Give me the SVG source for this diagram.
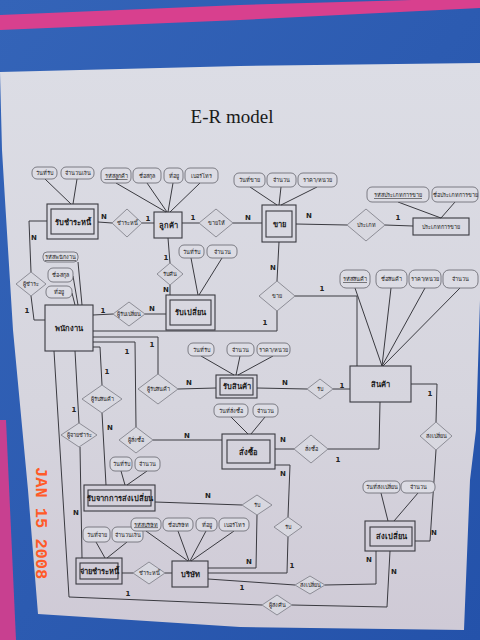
<svg xmlns="http://www.w3.org/2000/svg" width="480" height="640" viewBox="0 0 480 640">
<defs>
<linearGradient id="paper" x1="0" y1="0" x2="0" y2="1">
<stop offset="0" stop-color="#dcdde5"/>
<stop offset="0.6" stop-color="#d6d5de"/>
<stop offset="1" stop-color="#cfcad6"/>
</linearGradient>
<linearGradient id="blue" x1="0" y1="0" x2="1" y2="1">
<stop offset="0" stop-color="#3464b8"/>
<stop offset="1" stop-color="#2452aa"/>
</linearGradient>
<style>
.ln{fill:none;stroke:#3a3a40;stroke-width:1}
.ent{fill:none;stroke:#3a3a40;stroke-width:1.1}
.att{fill:#dcdce4;stroke:#707078;stroke-width:0.9}
.rel{fill:#d8d8e0;stroke:#85858d;stroke-width:0.9}
.t{font-family:"DejaVu Sans","Noto Sans",sans-serif;font-size:5.5px;fill:#222;text-anchor:middle}
.te{font-family:"DejaVu Sans","Noto Sans",sans-serif;font-size:7.5px;font-weight:bold;fill:#1a1a1a;text-anchor:middle}
.c{font-family:"DejaVu Sans",sans-serif;font-size:7px;font-weight:bold;fill:#222;text-anchor:middle}
.u{text-decoration:underline}
</style>
</defs>
<g id="photo">
<rect x="0" y="0" width="480" height="640" fill="url(#blue)"/>
<polygon points="0,15 240,5 480,-2 480,8 240,20 0,30" fill="#d8408e"/>
<polygon points="0,420 6,420 16,640 0,640" fill="#c84090"/>
<polygon points="0,72 240,66 480,63 480,300 476,430 470,480 464,630 240,627 38,614 28,490 13,330 5,200 2,150" fill="url(#paper)"/>
<text x="232" y="123" font-family="Liberation Serif,serif" font-size="19" fill="#1a1a1a" text-anchor="middle">E-R model</text>
<text transform="translate(36,467) rotate(90)" font-family="Liberation Mono,monospace" font-size="17" font-weight="bold" fill="#ff5a28">JAN 15 2008</text>
</g>
<g id="connectors">
<path class="ln" d="M45,179L71,204M77,179L73,204"/>
<path class="ln" d="M116,183L166,212M147,183L167,212M173,183L168,212M200,183L170,212"/>
<path class="ln" d="M250,187L277,205M281,187L279,205M317,187L281,205"/>
<path class="ln" d="M398,202L441,218M455,202L441,218"/>
<path class="ln" d="M191,258L198,295M222,258L199,295"/>
<path class="ln" d="M78,262L82,305M73,276L78,305M72,293L75,305"/>
<path class="ln" d="M201,356L234,375M240,356L236,375M273,356L238,375"/>
<path class="ln" d="M355,288L382,366M391,288L382,366M425,288L382,366M460,288L383,366"/>
<path class="ln" d="M231,417L248,434M265,417L251,434"/>
<path class="ln" d="M121,471L125,485M147,471L127,485"/>
<path class="ln" d="M96,542L105,558M127,542L107,558"/>
<path class="ln" d="M146,531L188,561M178,531L189,561M206,531L190,561M234,531L191,561"/>
<path class="ln" d="M381,493L388,521M418,493L394,521"/>
<path class="ln" d="M98,222L112,223M142,223L154,223M182,223L199,223M233,223L262,223M296,224L347,225M385,225L413,226"/>
<path class="ln" d="M168,238L170,263M170,285L170,295"/>
<path class="ln" d="M47,221L29,221L31,272M31,296L34,320L45,320"/>
<path class="ln" d="M93,315L113,314M145,314L166,314"/>
<path class="ln" d="M279,242L277,281M277,311L277,331L93,331M295,296L357,296L357,366"/>
<path class="ln" d="M93,337L158,337L158,374M93,342L135,342L136,427M93,347L100,347L102,385"/>
<path class="ln" d="M75,351L79,423M102,413L106,485M80,447L82,558"/>
<path class="ln" d="M178,389L216,388M257,388L307,389M333,389L350,389"/>
<path class="ln" d="M153,440L222,440M275,449L294,449M328,449L379,449L380,402"/>
<path class="ln" d="M411,384L437,384L436,422M436,450L430,541L415,541"/>
<path class="ln" d="M155,502L242,505M257,515L256,568L208,568M275,465L290,465L288,517M288,537L287,573L208,573"/>
<path class="ln" d="M208,579L295,585M325,585L376,584L376,551"/>
<path class="ln" d="M122,573L133,573M165,573L172,573"/>
<path class="ln" d="M54,351L69,597L262,605M292,605L387,607L390,551"/>
</g>
<g id="labels">
<text class="c" x="104" y="219">N</text><text class="c" x="148" y="221">1</text>
<text class="c" x="193" y="220">1</text><text class="c" x="248" y="220">N</text>
<text class="c" x="309" y="218">N</text><text class="c" x="398" y="220">1</text>
<text class="c" x="166" y="260">1</text><text class="c" x="166" y="292">N</text>
<text class="c" x="34" y="240">N</text><text class="c" x="27" y="313">1</text>
<text class="c" x="103" y="313">1</text><text class="c" x="152" y="311">N</text>
<text class="c" x="273" y="270">N</text><text class="c" x="265" y="325">1</text><text class="c" x="322" y="291">1</text>
<text class="c" x="152" y="347">1</text><text class="c" x="127" y="354">1</text><text class="c" x="107" y="374">1</text>
<text class="c" x="74" y="412">1</text><text class="c" x="110" y="430">N</text><text class="c" x="76" y="515">N</text>
<text class="c" x="189" y="385">N</text><text class="c" x="285" y="385">N</text><text class="c" x="342" y="388">1</text>
<text class="c" x="187" y="438">N</text><text class="c" x="283" y="442">N</text><text class="c" x="338" y="462">1</text>
<text class="c" x="430" y="396">1</text><text class="c" x="434" y="535">N</text>
<text class="c" x="208" y="498">N</text><text class="c" x="249" y="564">N</text>
<text class="c" x="283" y="476">N</text><text class="c" x="292" y="568">1</text>
<text class="c" x="242" y="590">1</text><text class="c" x="369" y="562">N</text>
<text class="c" x="128" y="596">1</text><text class="c" x="394" y="574">N</text>
</g>
<g id="e-rubchamra"><rect class="ent" x="47" y="204" width="51" height="35"/><rect class="ent" x="51" y="209" width="43" height="25"/><text class="te" x="72.5" y="225">รับชำระหนี้</text></g>
<g id="e-lukkha"><rect class="ent" x="154" y="212" width="28" height="26"/><text class="te" x="168" y="228">ลูกค้า</text></g>
<g id="e-khai"><rect class="ent" x="262" y="205" width="34" height="37"/><rect class="ent" x="266" y="211" width="26" height="26"/><text class="te" x="279" y="227">ขาย</text></g>
<g id="e-prapheet"><rect class="ent" x="413" y="218" width="56" height="17"/><text class="t" x="441" y="229">ประเภทการขาย</text></g>
<g id="e-phanakngan"><rect class="ent" x="45" y="305" width="48" height="46"/><text class="te" x="69" y="331">พนักงาน</text></g>
<g id="e-rubplian"><rect class="ent" x="166" y="295" width="49" height="35"/><rect class="ent" x="170" y="300" width="41" height="25"/><text class="te" x="190.5" y="315">รับเปลี่ยน</text></g>
<g id="e-rubsinkha"><rect class="ent" x="216" y="375" width="41" height="23"/><rect class="ent" x="220" y="378" width="33" height="17"/><text class="te" x="236.5" y="389">รับสินค้า</text></g>
<g id="e-sinkha"><rect class="ent" x="350" y="366" width="61" height="36"/><text class="te" x="380" y="387">สินค้า</text></g>
<g id="e-sangsue"><rect class="ent" x="222" y="434" width="53" height="35"/><rect class="ent" x="227" y="440" width="43" height="23"/><text class="te" x="248.5" y="455">สั่งซื้อ</text></g>
<g id="e-rubjak"><rect class="ent" x="84" y="485" width="71" height="26"/><rect class="ent" x="88" y="490" width="63" height="16"/><text class="te" x="119.5" y="501">รับจากการส่งเปลี่ยน</text></g>
<g id="e-jaichamra"><rect class="ent" x="76" y="558" width="46" height="26"/><rect class="ent" x="80" y="563" width="38" height="16"/><text class="te" x="99" y="574">จ่ายชำระหนี้</text></g>
<g id="e-borisat"><rect class="ent" x="172" y="561" width="36" height="26"/><text class="te" x="190" y="577">บริษัท</text></g>
<g id="e-songplian"><rect class="ent" x="365" y="521" width="50" height="30"/><rect class="ent" x="370" y="527" width="42" height="19"/><text class="te" x="391" y="539">ส่งเปลี่ยน</text></g>
<g id="a-rubchamra">
<rect class="att" x="32" y="167" width="25" height="12" rx="5"/><text class="t" x="44.5" y="175">วันที่รับ</text>
<rect class="att" x="61" y="167" width="33" height="12" rx="5"/><text class="t" x="77.5" y="175">จำนวนเงิน</text>
</g>
<g id="a-lukkha">
<rect class="att" x="101" y="168" width="30" height="15" rx="5"/><text class="t u" x="116" y="178">รหัสลูกค้า</text>
<rect class="att" x="133" y="168" width="28" height="15" rx="5"/><text class="t" x="147" y="178">ชื่อสกุล</text>
<rect class="att" x="164" y="168" width="19" height="15" rx="5"/><text class="t" x="173.5" y="178">ที่อยู่</text>
<rect class="att" x="185" y="168" width="33" height="15" rx="5"/><text class="t" x="201.5" y="178">เบอร์โทร</text>
</g>
<g id="a-khai">
<rect class="att" x="234" y="173" width="31" height="14" rx="5"/><text class="t" x="249.5" y="182">วันที่ขาย</text>
<rect class="att" x="267" y="173" width="29" height="14" rx="5"/><text class="t" x="281.5" y="182">จำนวน</text>
<rect class="att" x="298" y="173" width="39" height="14" rx="5"/><text class="t" x="317.5" y="182">ราคา/หน่วย</text>
</g>
<g id="a-prapheet">
<rect class="att" x="367" y="187" width="62" height="15" rx="5"/><text class="t u" x="398" y="197">รหัสประเภทการขาย</text>
<rect class="att" x="432" y="187" width="46" height="15" rx="5"/><text class="t" x="455" y="197">ชื่อประเภทการขาย</text>
</g>
<g id="a-rubplian">
<rect class="att" x="179" y="245" width="25" height="13" rx="5"/><text class="t" x="191.5" y="253.5">วันที่รับ</text>
<rect class="att" x="207" y="245" width="30" height="13" rx="5"/><text class="t" x="222" y="253.5">จำนวน</text>
</g>
<g id="a-phanakngan">
<rect class="att" x="43" y="252" width="35" height="10" rx="4"/><text class="t u" x="60.5" y="259">รหัสพนักงาน</text>
<rect class="att" x="48" y="268" width="25" height="14" rx="5"/><text class="t" x="60.5" y="277">ชื่อ-สกุล</text>
<rect class="att" x="46" y="286" width="26" height="12" rx="5"/><text class="t" x="59" y="294">ที่อยู่</text>
</g>
<g id="a-rubsinkha">
<rect class="att" x="188" y="343" width="26" height="13" rx="5"/><text class="t" x="201" y="351.5">วันที่รับ</text>
<rect class="att" x="227" y="343" width="27" height="13" rx="5"/><text class="t" x="240.5" y="351.5">จำนวน</text>
<rect class="att" x="257" y="343" width="33" height="13" rx="5"/><text class="t" x="273.5" y="351.5">ราคา/หน่วย</text>
</g>
<g id="a-sinkha">
<rect class="att" x="340" y="270" width="30" height="18" rx="6"/><text class="t u" x="355" y="281">รหัสสินค้า</text>
<rect class="att" x="376" y="270" width="31" height="18" rx="6"/><text class="t" x="391.5" y="281">ชื่อสินค้า</text>
<rect class="att" x="409" y="270" width="32" height="18" rx="6"/><text class="t" x="425" y="281">ราคา/หน่วย</text>
<rect class="att" x="443" y="270" width="35" height="18" rx="6"/><text class="t" x="460.5" y="281">จำนวน</text>
</g>
<g id="a-sangsue">
<rect class="att" x="214" y="404" width="34" height="13" rx="5"/><text class="t" x="231" y="412.5">วันที่สั่งซื้อ</text>
<rect class="att" x="253" y="404" width="25" height="13" rx="5"/><text class="t" x="265.5" y="412.5">จำนวน</text>
</g>
<g id="a-rubjak">
<rect class="att" x="110" y="457" width="22" height="14" rx="5"/><text class="t" x="121" y="466">วันที่รับ</text>
<rect class="att" x="135" y="457" width="25" height="14" rx="5"/><text class="t" x="147.5" y="466">จำนวน</text>
</g>
<g id="a-jaichamra">
<rect class="att" x="83" y="527" width="27" height="15" rx="5"/><text class="t" x="96.5" y="537">วันที่จ่าย</text>
<rect class="att" x="112" y="527" width="31" height="15" rx="5"/><text class="t" x="127.5" y="537">จำนวนเงิน</text>
</g>
<g id="a-borisat">
<rect class="att" x="131" y="518" width="30" height="13" rx="5"/><text class="t u" x="146" y="526.5">รหัสบริษัท</text>
<rect class="att" x="163" y="518" width="30" height="13" rx="5"/><text class="t" x="178" y="526.5">ชื่อบริษัท</text>
<rect class="att" x="196" y="518" width="21" height="13" rx="5"/><text class="t" x="206.5" y="526.5">ที่อยู่</text>
<rect class="att" x="219" y="518" width="30" height="13" rx="5"/><text class="t" x="234" y="526.5">เบอร์โทร</text>
</g>
<g id="a-songplian">
<rect class="att" x="363" y="481" width="37" height="12" rx="5"/><text class="t" x="381.5" y="489">วันที่ส่งเปลี่ยน</text>
<rect class="att" x="401" y="481" width="34" height="12" rx="5"/><text class="t" x="418" y="489">จำนวน</text>
</g>
<g id="r-chamranee1"><polygon class="rel" points="112,223 127,209 142,223 127,237"/><text class="t" x="127" y="225">ชำระหนี้</text></g>
<g id="r-khaihai"><polygon class="rel" points="199,223 216,209 233,223 216,237"/><text class="t" x="216" y="225">ขายให้</text></g>
<g id="r-prapheet"><polygon class="rel" points="347,225 366,209 385,225 366,241"/><text class="t" x="366" y="227">ประเภท</text></g>
<g id="r-rubkhuen"><polygon class="rel" points="157,274 170,263 183,274 170,285"/><text class="t" x="170" y="276">รับคืน</text></g>
<g id="r-phuchamra"><polygon class="rel" points="16,284 31,272 46,284 31,296"/><text class="t" x="31" y="286">ผู้ชำระ</text></g>
<g id="r-phurubplian"><polygon class="rel" points="113,314 129,302 145,314 129,326"/><text class="t" x="129" y="316">ผู้รับเปลี่ยน</text></g>
<g id="r-khai"><polygon class="rel" points="259,296 277,281 295,296 277,311"/><text class="t" x="277" y="298">ขาย</text></g>
<g id="r-phurubsinkha1"><polygon class="rel" points="138,389 158,374 178,389 158,404"/><text class="t" x="158" y="391">ผู้รับสินค้า</text></g>
<g id="r-phurubsinkha2"><polygon class="rel" points="82,399 102,385 122,399 102,413"/><text class="t" x="102" y="401">ผู้รับสินค้า</text></g>
<g id="r-phujaichamra"><polygon class="rel" points="61,435 79,423 97,435 79,447"/><text class="t" x="79" y="437">ผู้จ่ายชำระ</text></g>
<g id="r-phusangsue"><polygon class="rel" points="119,440 136,427 153,440 136,453"/><text class="t" x="136" y="442">ผู้สั่งซื้อ</text></g>
<g id="r-rub1"><polygon class="rel" points="307,389 320,379 333,389 320,399"/><text class="t" x="320" y="391">รับ</text></g>
<g id="r-sangsue"><polygon class="rel" points="294,449 311,435 328,449 311,463"/><text class="t" x="311" y="451">สั่งซื้อ</text></g>
<g id="r-songplian1"><polygon class="rel" points="420,436 436,422 452,436 436,450"/><text class="t" x="436" y="438">ส่งเปลี่ยน</text></g>
<g id="r-rub2"><polygon class="rel" points="242,505 257,495 272,505 257,515"/><text class="t" x="257" y="507">รับ</text></g>
<g id="r-rub3"><polygon class="rel" points="274,527 288,517 302,527 288,537"/><text class="t" x="288" y="529">รับ</text></g>
<g id="r-chamranee2"><polygon class="rel" points="133,573 149,562 165,573 149,584"/><text class="t" x="149" y="575">ชำระหนี้</text></g>
<g id="r-songplian2"><polygon class="rel" points="295,585 310,576 325,585 310,594"/><text class="t" x="310" y="587">ส่งเปลี่ยน</text></g>
<g id="r-phusongkhuen"><polygon class="rel" points="262,605 277,595 292,605 277,615"/><text class="t" x="277" y="607">ผู้ส่งคืน</text></g>
</svg>
